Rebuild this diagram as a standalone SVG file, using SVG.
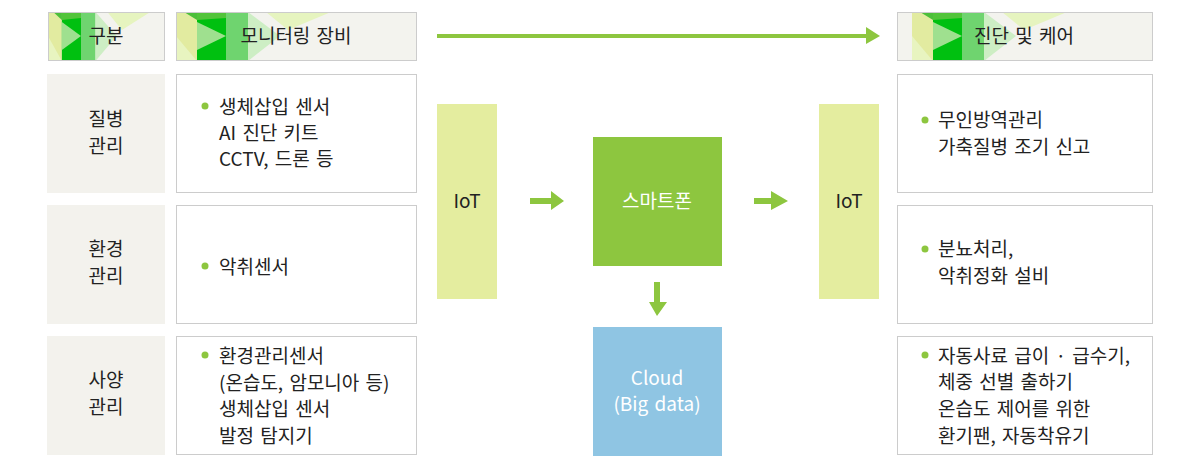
<svg xmlns="http://www.w3.org/2000/svg" xmlns:xlink="http://www.w3.org/1999/xlink" width="1200" height="470" viewBox="0 0 1200 470">
<style>
text{font-family:"Noto Sans CJK KR","Noto Sans",sans-serif;font-size:19px;word-spacing:2px;fill:#222}
.c{text-anchor:middle}
.w{fill:#ffffff}
.hdr{fill:#f3f3ee;stroke:#cccccc;stroke-width:1}
.lbl{fill:#f3f2ed}
.box{fill:#ffffff;stroke:#cccccc;stroke-width:1}
.iot{fill:#e4ed9f}
.bul{fill:#8dc63f}
.arr{fill:#8dc63f}
</style>
<defs>
<g id="deco">
<rect x="0" y="0" width="21" height="49" fill="#e2eba0"/>
<polygon points="0,24 21,49 0,49" fill="#e8f4c0"/>
<polygon points="8,0 21,0 21,8" fill="#4cbf3a"/>
<rect x="21" y="0" width="29" height="49" fill="#00c010"/>
<polygon points="21,0 50,0 50,6 21,8" fill="#52c43a"/>
<polygon points="21,10 50,24 21,38" fill="#9fe08f"/>
<rect x="50" y="0" width="22" height="49" fill="#6fd46f"/>
<polygon points="72,0 104,24 72,49" fill="#cdeec4"/>
<polygon points="90,0 155,0 112,18" fill="#e6f4bf"/>
</g>
<clipPath id="c1"><rect x="48" y="12" width="117" height="49"/></clipPath>
<clipPath id="c2"><rect x="176" y="12" width="241" height="49"/></clipPath>
<clipPath id="c3"><rect x="897" y="12" width="256" height="49"/></clipPath>
</defs>

<g id="header-gubun">
<rect class="hdr" x="48.5" y="12.5" width="116" height="48"/>
<g clip-path="url(#c1)"><use xlink:href="#deco" transform="translate(48,12) scale(0.66,1)"/></g>
<rect x="48.5" y="12.5" width="116" height="48" fill="none" stroke="#cccccc"/>
<text class="c" x="106" y="43">구분</text>
</g>
<g id="header-monitoring">
<rect class="hdr" x="176.5" y="12.5" width="240" height="48"/>
<g clip-path="url(#c2)"><use xlink:href="#deco" transform="translate(176,12)"/></g>
<rect x="176.5" y="12.5" width="240" height="48" fill="none" stroke="#cccccc"/>
<text class="c" x="296" y="43">모니터링 장비</text>
</g>
<g id="header-care">
<rect class="hdr" x="897.5" y="12.5" width="255" height="48"/>
<g clip-path="url(#c3)"><use xlink:href="#deco" transform="translate(912,12)"/></g>
<rect x="897.5" y="12.5" width="255" height="48" fill="none" stroke="#cccccc"/>
<text class="c" x="1024" y="43">진단 및 케어</text>
</g>

<g id="label-disease"><rect class="lbl" x="47" y="74" width="118" height="119"/>
<text class="c" x="106" y="126">질병</text><text class="c" x="106" y="153">관리</text></g>
<g id="label-env"><rect class="lbl" x="47" y="205" width="118" height="119"/>
<text class="c" x="106" y="256">환경</text><text class="c" x="106" y="283">관리</text></g>
<g id="label-feed"><rect class="lbl" x="47" y="336" width="118" height="119"/>
<text class="c" x="106" y="387">사양</text><text class="c" x="106" y="414">관리</text></g>

<g id="mon-disease"><rect class="box" x="176.5" y="74.5" width="240" height="118"/>
<circle class="bul" cx="205" cy="106" r="3.5"/>
<text x="219" y="114">생체삽입 센서</text><text x="219" y="140">AI 진단 키트</text><text x="219" y="166">CCTV, 드론 등</text></g>
<g id="mon-env"><rect class="box" x="176.5" y="205.5" width="240" height="118"/>
<circle class="bul" cx="205" cy="266" r="3.5"/>
<text x="219" y="274">악취센서</text></g>
<g id="mon-feed"><rect class="box" x="176.5" y="336.5" width="240" height="118"/>
<circle class="bul" cx="205" cy="355" r="3.5"/>
<text x="219" y="363">환경관리센서</text><text x="219" y="390">(온습도, 암모니아 등)</text><text x="219" y="416">생체삽입 센서</text><text x="219" y="443">발정 탐지기</text></g>

<g id="iot-left"><rect class="iot" x="437" y="104" width="60" height="195"/>
<text class="c" x="467" y="208">IoT</text></g>
<g id="smartphone"><rect x="593" y="137" width="129" height="129" fill="#8dc63f"/>
<text class="c w" x="657" y="208">스마트폰</text></g>
<g id="cloud"><rect x="593" y="327" width="129" height="129" fill="#8fc5e3"/>
<text class="c w" x="657" y="385">Cloud</text><text class="c w" x="657" y="411">(Big data)</text></g>
<g id="iot-right"><rect class="iot" x="819" y="104" width="60" height="195"/>
<text class="c" x="849" y="208">IoT</text></g>

<g id="care-disease"><rect class="box" x="897.5" y="74.5" width="255" height="118"/>
<circle class="bul" cx="925" cy="120" r="3.5"/>
<text x="938" y="127">무인방역관리</text><text x="938" y="154">가축질병 조기 신고</text></g>
<g id="care-env"><rect class="box" x="897.5" y="205.5" width="255" height="118"/>
<circle class="bul" cx="925" cy="249" r="3.5"/>
<text x="938" y="256">분뇨처리,</text><text x="938" y="283">악취정화 설비</text></g>
<g id="care-feed"><rect class="box" x="897.5" y="336.5" width="255" height="118"/>
<circle class="bul" cx="925" cy="355" r="3.5"/>
<text x="938" y="363">자동사료 급이 · 급수기,</text><text x="938" y="389">체중 선별 출하기</text><text x="938" y="416">온습도 제어를 위한</text><text x="938" y="443">환기팬, 자동착유기</text></g>

<g id="connectors">
<rect class="arr" x="437" y="34" width="430" height="4"/>
<polygon class="arr" points="866,27 880,36 866,44"/>
<polygon class="arr" points="530,198 551,198 551,191 564,201 551,210 551,204 530,204"/>
<polygon class="arr" points="754,198 771,198 771,191 788,201 771,210 771,204 754,204"/>
<polygon class="arr" points="654,282 660,282 660,302 667,302 657,316 649,302 654,302"/>
</g>
</svg>
